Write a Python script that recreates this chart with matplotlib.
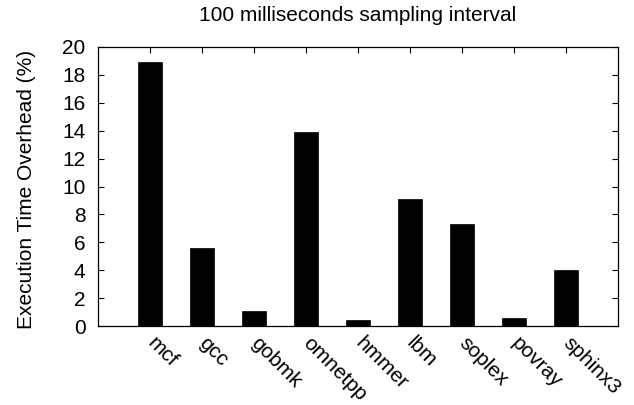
import matplotlib
matplotlib.use("Agg")
import matplotlib.pyplot as plt

plt.rcParams['font.family'] = ['Liberation Sans', 'DejaVu Sans']

categories = ["mcf", "gcc", "gobmk", "omnetpp", "hmmer", "lbm", "soplex", "povray", "sphinx3"]
overhead = [18.9, 5.6, 1.1, 13.9, 0.4, 9.1, 7.3, 0.6, 4.0]
yticks = [0, 2, 4, 6, 8, 10, 12, 14, 16, 18, 20]
title = "100 milliseconds sampling interval"
ylabel = "Execution Time Overhead (%)"

FS = 15

fig = plt.figure(figsize=(6.34, 4.05), dpi=100)
ax = fig.add_axes([98/634, (405-326)/405, (618-98)/634, (326-47)/405])

x = list(range(len(categories)))
ax.bar(x, overhead, width=0.47, color='black', edgecolor='black', linewidth=0.5, zorder=3)

ax.set_xlim(-1, len(categories))
ax.set_ylim(0, 20)
ax.set_yticks(yticks)
ax.set_yticklabels([str(v) for v in yticks], fontsize=FS)
ax.set_xticks(x)
ax.set_xticklabels(categories, fontsize=FS, rotation=-45, ha='left', va='center', rotation_mode='anchor')

ax.tick_params(axis='both', direction='in', length=4.3, width=0.8, top=True, right=True, colors='black')
ax.tick_params(axis='y', pad=9)
ax.tick_params(axis='x', pad=10)
for s in ax.spines.values():
    s.set_linewidth(0.9)
    s.set_color('black')

ax.set_ylabel(ylabel, fontsize=FS)
ax.yaxis.set_label_coords(-0.12, 0.49)
ax.set_title(title, fontsize=FS, pad=18.7)

fig.savefig("out.png", dpi=100)
